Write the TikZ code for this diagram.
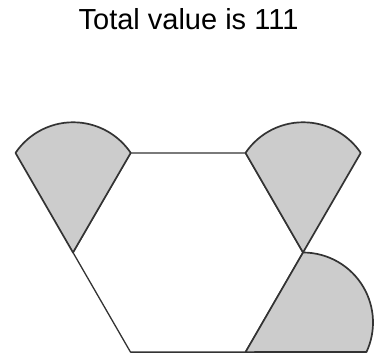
\documentclass[tikz,border=0pt]{standalone}
\usepackage{fontspec}
\setmainfont{Liberation Sans}
\usetikzlibrary{calc}

\begin{document}
\begin{tikzpicture}[x=1pt, y=1pt, line join=round,
    edge/.style={draw=black!80, line width=1.3pt},
    sector/.style={fill=black!20, draw=black!80, line width=1.7pt}]
    \useasboundingbox (0,0) rectangle (382,360);

    % Title
    \node[font=\fontsize{29}{34}\selectfont, anchor=base] (title) at (188.5,331) {Total value is 111};

    % Hexagon corners
    \coordinate (hc) at (188,107.5);
    \foreach \i in {0,...,5}
      \coordinate (h\i) at ($(hc)+(\i*60:115)$);

    % Hexagon
    \draw[edge] (h0) -- (h1) -- (h2) -- (h3) -- (h4) -- (h5) -- cycle;

    % Shaded sectors
    \draw[sector] (h3) -- ($(h3)+(120:115)$) arc[start angle=146, end angle=34, radius=69.5] -- cycle;
    \draw[sector] (h0) -- (h1) arc[start angle=146, end angle=34, radius=69.5] -- cycle;
    \draw[sector] (h5) -- (h0) arc[start angle=90, end angle=-25, radius=70] -- cycle;
\end{tikzpicture}
\end{document}
